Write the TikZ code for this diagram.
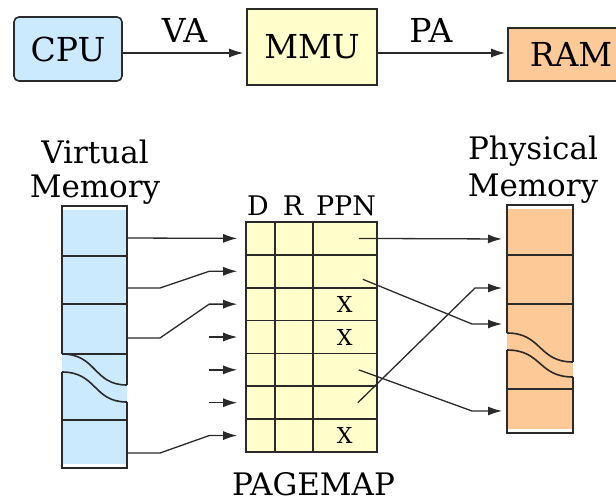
\documentclass[tikz,border=0pt]{standalone}
\usepackage{fontspec}
\setmainfont{DejaVu Serif}
\usetikzlibrary{arrows.meta}

\definecolor{vmblue}{HTML}{CCEAFD}
\definecolor{mapyellow}{HTML}{FFFFCC}
\definecolor{pmorange}{HTML}{FDC997}
\definecolor{ink}{HTML}{2A2A2A}

\tikzset{
  unit/.style={draw=ink, line width=1.6pt, inner sep=0pt,
    font=\fontsize{33}{36}\selectfont},
  maprow/.style={draw=ink, fill=mapyellow, line width=1.6pt, inner sep=0pt,
    minimum width=131pt, minimum height=32.86pt},
  mem/.style={draw=ink, line width=1.6pt},
  arr/.style={draw=ink, line width=1.3pt, -{Latex[length=14pt,width=9pt]}},
  lbl/.style={font=\fontsize{31}{35}\selectfont, inner sep=0pt},
  hdr/.style={font=\fontsize{27}{30}\selectfont, inner sep=0pt, anchor=base}
}

\begin{document}
\begin{tikzpicture}[x=1pt, y=-1pt, text=black]
  \useasboundingbox (0,0) rectangle (616,501);

  % top row
  \node[unit, fill=vmblue, rounded corners=5pt, minimum width=108pt,
    minimum height=64pt] (cpu) at (68,49) {CPU};
  \node[unit, fill=mapyellow, minimum width=130pt, minimum height=76pt]
    (mmu) at (312,47) {MMU};
  \node[unit, fill=pmorange, minimum width=126pt, minimum height=53pt]
    (ram) at (571,54.5) {RAM};

  \draw[arr, shorten >=3pt] ([yshift=-4pt]cpu.east) -- ([yshift=-4pt]cpu.east -| mmu.west)
    node[midway, above=7pt, font=\fontsize{33}{36}\selectfont] (va) {VA};
  \draw[arr, shorten >=2pt] ([yshift=-6pt]mmu.east) -- ([yshift=-6pt]mmu.east -| ram.west)
    node[pos=0.41, above=7pt, font=\fontsize{33}{36}\selectfont] (pa) {PA};

  % virtual memory
  \node[lbl, align=center, anchor=north] (vmlabel) at (95,140) {Virtual\\[-1pt]Memory};
  \fill[vmblue] (62,210) rectangle (127,464);
  \draw[mem] (62,354) -- (62,206) -- (127,206) -- (127,385);
  \draw[mem] (62,256) -- (127,256) (62,304) -- (127,304) (62,354) -- (127,354);
  \draw[mem] (62,354) .. controls (97,354) and (93,385) .. (127,385);
  \draw[mem] (62,372) .. controls (97,372) and (93,402) .. (127,402);
  \draw[mem] (127,402) -- (127,468) -- (62,468) -- (62,372);
  \draw[mem] (62,420) -- (127,420);
  \coordinate (vm1) at (127,238);
  \coordinate (vm2) at (127,288);
  \coordinate (vm3) at (127,338);
  \coordinate (vm4) at (127,453);

  % page map
  \foreach \i in {1,...,7}
    \node[maprow] (r\i) at (311.5,{205.57+32.857*\i}) {};
  \draw[mem] (275,222) -- (275,452) (313,222) -- (313,452);
  \node[hdr] (hd) at (258,215) {D};
  \node[hdr] (hr) at (293,215) {R};
  \node[hdr] (hppn) at (346,215) {PPN};
  \foreach \i in {3,4,7}
    \node[font=\fontsize{22}{24}\selectfont, inner sep=0pt] (x\i) at ([xshift=-33pt]r\i.east) {X};
  \node[lbl, anchor=base] (pagemap) at (313.5,495) {PAGEMAP};

  % physical memory
  \node[lbl, align=center, anchor=north] (pmlabel) at (533,136) {Physical\\[2pt]Memory};
  \fill[pmorange] (507,209) rectangle (573,429);
  \draw[mem] (507,333) -- (507,205) -- (573,205) -- (573,362);
  \draw[mem] (507,255) -- (573,255) (507,304) -- (573,304);
  \draw[mem] (507,333) .. controls (542,333) and (538,362) .. (573,362);
  \draw[mem] (507,350) .. controls (542,350) and (538,377) .. (573,377);
  \draw[mem] (573,377) -- (573,433) -- (507,433) -- (507,350);
  \draw[mem] (507,389) -- (573,389);
  \coordinate (pm1) at (507,239);
  \coordinate (pm2) at (507,288);
  \coordinate (pm3) at (507,324);
  \coordinate (pm4) at (507,411);

  % virtual -> page map
  \draw[arr, shorten >=8pt] (vm1) -- (r1.west);
  \draw[arr, shorten >=8pt] (vm2) -- ++(33,0) -- ([xshift=-36pt]r2.west) -- (r2.west);
  \draw[arr, shorten >=8pt] (vm3) -- ++(33,0) -- ([xshift=-36pt]r3.west) -- (r3.west);
  \foreach \i in {4,5,6}
    \draw[arr, shorten >=8pt] ([xshift=-36pt]r\i.west) -- (r\i.west);
  \draw[arr, shorten >=8pt] (vm4) -- ++(33,0) -- ([xshift=-36pt]r7.west) -- (r7.west);

  % page map -> physical
  \draw[arr, shorten >=5pt] ([xshift=-19pt]r1.east) -- (pm1);
  \draw[arr, shorten >=5pt] ([xshift=-15pt,yshift=-8pt]r2.east) -- ([xshift=-35pt]pm3) -- (pm3);
  \draw[arr, shorten >=5pt] ([xshift=-20pt]r6.east) -- ([xshift=-32pt]pm2) -- (pm2);
  \draw[arr, shorten >=5pt] ([xshift=-19pt]r5.east) -- ([xshift=-35pt]pm4) -- (pm4);
\end{tikzpicture}
\end{document}
